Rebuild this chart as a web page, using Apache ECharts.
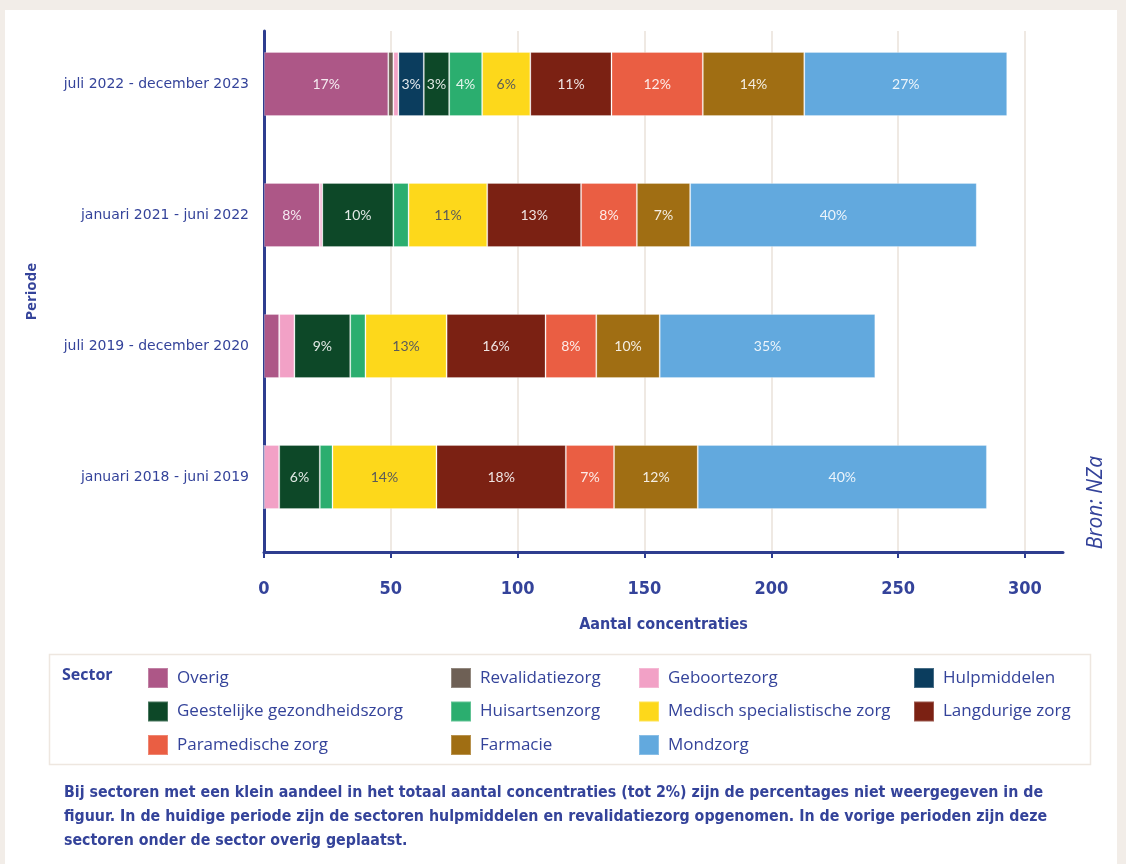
<!DOCTYPE html>
<html>
<head>
<meta charset="utf-8">
<script src="https://cdn.jsdelivr.net/npm/echarts@6/dist/echarts.min.js"></script>
<style>
  body { margin: 0; background: #f2ede8; }
  #panel { position: absolute; left: 5px; top: 10px; width: 1112px; height: 854px; background: #fff; }
  #chart { position: absolute; left: 0; top: 0; width: 1126px; height: 864px; }
</style>
</head>
<body>
<div id="panel"></div>
<div id="chart"></div>
<script>
var categories = ['juli 2022 - december 2023', 'januari 2021 - juni 2022', 'juli 2019 - december 2020', 'januari 2018 - juni 2019']
var xTicks = [0, 50, 100, 150, 200, 250, 300]

// aantal concentraties per sector, per periode
var overig = [49, 22, 6, 0]
var revalidatiezorg = [2, 0, 0, 0]
var geboortezorg = [2, 1, 6, 6]
var hulpmiddelen = [10, 0, 0, 0]
var ggz = [10, 28, 22, 16]
var huisartsenzorg = [13, 6, 6, 5]
var msz = [19, 31, 32, 41]
var langdurig = [32, 37, 39, 51]
var paramedisch = [36, 22, 20, 19]
var farmacie = [40, 21, 25, 33]
var mondzorg = [80, 113, 85, 114]

var blue = '#34439a'
var axisBlue = '#2e3d8f'
var condensed = '"DejaVu Sans Condensed", "Roboto", sans-serif'

var sectors = [
  { name: 'Overig', data: overig, color: '#ad5787' },
  { name: 'Revalidatiezorg', data: revalidatiezorg, color: '#6e6055' },
  { name: 'Geboortezorg', data: geboortezorg, color: '#f2a1c6' },
  { name: 'Hulpmiddelen', data: hulpmiddelen, color: '#0b3d5e' },
  { name: 'Geestelijke gezondheidszorg', data: ggz, color: '#0d4828' },
  { name: 'Huisartsenzorg', data: huisartsenzorg, color: '#2bae6f' },
  { name: 'Medisch specialistische zorg', data: msz, color: '#fdd81b' },
  { name: 'Langdurige zorg', data: langdurig, color: '#7b2113' },
  { name: 'Paramedische zorg', data: paramedisch, color: '#ea5e43' },
  { name: 'Farmacie', data: farmacie, color: '#a06e13' },
  { name: 'Mondzorg', data: mondzorg, color: '#62a9de' }
]

var totals = categories.map(function (c, i) {
  return sectors.reduce(function (s, d) { return s + d.data[i] }, 0)
})

var series = sectors.map(function (s) {
  return {
    name: s.name,
    type: 'bar',
    stack: 'total',
    xAxisIndex: 0,
    yAxisIndex: 0,
    barWidth: 64,
    data: s.data,
    itemStyle: { color: s.color, borderColor: 'rgba(255,255,255,0.25)', borderWidth: 1 },
    label: {
      show: true,
      position: 'inside',
      fontFamily: 'Lato',
      fontSize: 14,
      color: s.name === 'Medisch specialistische zorg' ? '#5a5a5a' : 'rgba(255,255,255,0.88)',
      formatter: function (p) {
        var pct = Math.round(p.value / totals[p.dataIndex] * 100)
        return pct > 2 ? pct + '%' : ''
      }
    }
  }
})

// legenda in vier kolommen
var legendCols = [
  { left: 142, names: ['Overig', 'Geestelijke gezondheidszorg', 'Paramedische zorg'] },
  { left: 445, names: ['Revalidatiezorg', 'Huisartsenzorg', 'Farmacie'] },
  { left: 633, names: ['Geboortezorg', 'Medisch specialistische zorg', 'Mondzorg'] },
  { left: 908, names: ['Hulpmiddelen', 'Langdurige zorg'] }
]
var legends = legendCols.map(function (c) {
  return {
    left: c.left,
    top: 662,
    orient: 'vertical',
    data: c.names,
    icon: 'rect',
    itemWidth: 20,
    itemHeight: 20,
    itemGap: 11.5,
    selectedMode: false,
    textStyle: { color: blue, fontFamily: 'Open Sans', fontSize: 17, padding: [0, 0, 0, 4] }
  }
})

var note = 'Bij sectoren met een klein aandeel in het totaal aantal concentraties (tot 2%) zijn de percentages niet weergegeven in de\n' +
  'figuur. In de huidige periode zijn de sectoren hulpmiddelen en revalidatiezorg opgenomen. In de vorige perioden zijn deze\n' +
  'sectoren onder de sector overig geplaatst.'

var chart = echarts.init(document.getElementById('chart'))
chart.setOption({
  animation: false,
  textStyle: { fontFamily: 'Open Sans' },
  // grid 0: balken en periodelabels, grid 1: assen en rasterlijnen
  grid: [
    { left: 264, right: 63, top: 18.5, bottom: 321.5 },
    { left: 264, right: 63, top: 31, bottom: 312 }
  ],
  legend: legends,
  xAxis: [
    { gridIndex: 0, type: 'value', min: 0, max: 315, show: false },
    {
      gridIndex: 1,
      type: 'value',
      min: 0,
      max: 315,
      interval: 50,
      name: 'Aantal concentraties',
      nameLocation: 'middle',
      nameGap: 65,
      nameTextStyle: { color: blue, fontFamily: condensed, fontWeight: 'bold', fontSize: 16 },
      axisLine: { show: true, onZero: false, lineStyle: { color: axisBlue, width: 3 } },
      axisTick: { show: true, length: 6, customValues: xTicks, lineStyle: { color: axisBlue, width: 2 } },
      axisLabel: {
        customValues: xTicks,
        margin: 28,
        color: blue,
        fontFamily: condensed,
        fontWeight: 'bold',
        fontSize: 18
      },
      splitLine: { show: true, lineStyle: { color: '#efe9e3', width: 2 } }
    }
  ],
  yAxis: [
    {
      gridIndex: 0,
      type: 'category',
      inverse: true,
      data: categories,
      axisLine: { show: false },
      axisTick: { show: false },
      splitLine: { show: false },
      axisLabel: { margin: 15, color: blue, fontFamily: 'DejaVu Sans', fontSize: 14 }
    },
    {
      gridIndex: 1,
      type: 'value',
      min: 0,
      max: 1,
      axisLine: { show: true, lineStyle: { color: axisBlue, width: 3 } },
      axisTick: { show: false },
      axisLabel: { show: false },
      splitLine: { show: false }
    }
  ],
  series: series,
  graphic: [
    {
      type: 'text', left: 24, top: 263, rotation: Math.PI / 2,
      style: { text: 'Periode', fill: blue, font: 'bold 15px "Open Sans"' }
    },
    {
      type: 'text', left: 1086, top: 456, rotation: Math.PI / 2,
      style: { text: 'Bron: NZa', fill: blue, font: 'italic 21px "Open Sans"' }
    },
    {
      type: 'rect', left: 47, top: 652, z: -1,
      shape: { width: 1041, height: 110 },
      style: { fill: 'none', stroke: '#eee7e0', lineWidth: 1.5 }
    },
    {
      type: 'text', left: 62, top: 667,
      style: { text: 'Sector', fill: blue, font: 'bold 16px "Open Sans"' }
    },
    {
      type: 'text', left: 64, top: 781,
      style: { text: note, fill: blue, font: 'bold 15.8px ' + condensed, lineHeight: 24 }
    }
  ]
})
</script>
</body>
</html>
